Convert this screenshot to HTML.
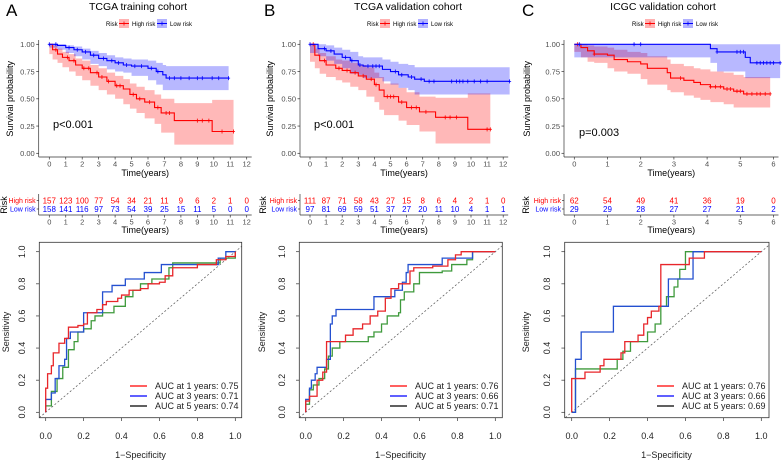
<!DOCTYPE html>
<html><head><meta charset="utf-8">
<style>
html,body{margin:0;padding:0;background:#fff;width:784px;height:461px;overflow:hidden}
svg{display:block;font-family:"Liberation Sans",sans-serif}
</style></head>
<body>
<svg id="fig" width="784" height="461" viewBox="0 0 784 461" xmlns="http://www.w3.org/2000/svg"></svg>
<script>
// ---------- DATA ----------
const kmAHigh=[[0,1,1,1],[0.2,0.95,0.91,0.99],[0.5,0.91,0.86,0.96],[0.8,0.88,0.83,0.93],[1.2,0.85,0.79,0.91],[1.6,0.81,0.75,0.87],[2,0.78,0.71,0.85],[2.5,0.74,0.67,0.81],[3,0.70,0.62,0.78],[3.5,0.66,0.58,0.74],[4,0.62,0.54,0.71],[4.5,0.59,0.50,0.68],[4.9,0.54,0.45,0.64],[5.3,0.50,0.41,0.61],[5.8,0.47,0.37,0.58],[6.4,0.42,0.32,0.54],[6.8,0.37,0.27,0.50],[7.6,0.30,0.19,0.46],[9.9,0.20,0.08,0.49],[11.2,0.20,0.08,0.49]];
const kmALow=[[0,1,1,1],[0.5,0.99,0.97,1],[1,0.97,0.95,0.99],[1.5,0.95,0.92,0.98],[2,0.93,0.89,0.96],[2.5,0.90,0.86,0.94],[3,0.87,0.82,0.92],[3.5,0.85,0.80,0.90],[4,0.83,0.77,0.88],[4.5,0.81,0.75,0.87],[5,0.80,0.74,0.86],[6,0.78,0.71,0.85],[6.5,0.75,0.67,0.83],[6.9,0.72,0.63,0.81],[7.1,0.69,0.58,0.80],[10.9,0.69,0.58,0.80]];
const censAHigh=[0.4,1.1,1.5,2.1,2.4,2.9,3.2,3.6,4.1,4.3,5.1,5.5,6.1,6.6,7.1,7.3,9.0,9.3,9.7,10.5,11.2];
const censALow=[0,0.4,1.2,1.7,2.2,2.7,3.3,3.8,4.2,4.7,5.2,5.6,6.2,6.6,7.3,7.6,8,8.5,9,9.3,9.9,10.3,10.9];
const kmBHigh=[[0,1,1,1],[0.3,0.9,0.84,0.96],[0.6,0.85,0.78,0.92],[1,0.81,0.73,0.89],[1.6,0.78,0.70,0.86],[2,0.76,0.67,0.85],[2.5,0.74,0.65,0.83],[3,0.71,0.61,0.81],[3.5,0.68,0.58,0.79],[4,0.63,0.52,0.74],[4.3,0.58,0.47,0.70],[4.6,0.52,0.40,0.64],[5.5,0.47,0.35,0.60],[6,0.42,0.30,0.56],[6.8,0.38,0.26,0.52],[7.8,0.33,0.20,0.51],[9.8,0.22,0.09,0.55],[11.2,0.22,0.09,0.55]];
const kmBLow=[[0,1,1,1],[0.5,0.96,0.92,1],[1,0.94,0.89,0.99],[1.5,0.91,0.85,0.97],[2,0.88,0.82,0.95],[2.5,0.85,0.78,0.93],[3,0.81,0.73,0.89],[3.3,0.80,0.72,0.88],[4.5,0.77,0.69,0.86],[5,0.75,0.66,0.84],[5.5,0.72,0.63,0.82],[6.1,0.70,0.60,0.81],[6.5,0.68,0.58,0.79],[7.1,0.66,0.54,0.79],[12.4,0.66,0.54,0.79]];
const censBHigh=[0.2,0.9,1.8,2.3,2.8,3.3,3.8,4.1,4.8,5.0,5.2,5.7,6.3,6.6,7.2,8.4,8.7,9.1,11.0,11.2];
const censBLow=[0,0.9,1.3,2.2,2.6,3.1,3.6,3.9,4.1,4.3,5.3,5.7,6.3,6.9,7.4,7.7,8.8,9.1,9.3,9.5,9.8,10.2,10.6,11,12.4];
const kmCHigh=[[0,1,1,1],[0.2,0.97,0.93,1],[0.4,0.94,0.88,0.99],[0.6,0.91,0.84,0.98],[1.0,0.90,0.83,0.97],[1.2,0.86,0.78,0.95],[1.6,0.84,0.75,0.93],[2.0,0.82,0.73,0.92],[2.2,0.78,0.68,0.89],[2.8,0.74,0.63,0.86],[2.9,0.69,0.58,0.82],[3.3,0.67,0.56,0.80],[3.6,0.65,0.53,0.78],[3.8,0.63,0.51,0.77],[4.1,0.61,0.49,0.75],[4.5,0.59,0.47,0.74],[4.8,0.57,0.45,0.72],[5.1,0.545,0.42,0.70],[5.9,0.545,0.42,0.70]];
const kmCLow=[[0,1,1,1],[4.1,0.96,0.88,1],[4.3,0.93,0.83,1],[5.15,0.88,0.75,1],[5.3,0.83,0.69,1],[6.2,0.83,0.69,1]];
const censCHigh=[0.1,0.6,3.2,4.1,4.25,4.4,4.6,4.7,4.9,5.0,5.2,5.35,5.5,5.6,5.75,5.9];
const censCLow=[0.15,1.8,2.0,4.3,4.9,5.0,5.1,5.5,5.6,5.7,5.8,5.9,6.0,6.2];
const riskAHigh=[157,123,100,77,54,34,21,11,9,6,2,1,0];
const riskALow=[158,141,116,97,73,54,39,25,15,11,5,0,0];
const riskBHigh=[111,87,71,58,43,27,15,8,6,4,2,1,0];
const riskBLow=[97,81,69,59,51,37,27,20,11,10,4,1,1];
const riskCHigh=[62,54,49,41,36,19,0];
const riskCLow=[29,29,28,27,27,21,2];
const survTicks=["0.00","0.25","0.50","0.75","1.00"];
const rocTicks=["0.0","0.2","0.4","0.6","0.8","1.0"];
const rocA1=[[0,0],[0,0.15],[0.01,0.24],[0.03,0.29],[0.04,0.37],[0.07,0.43],[0.1,0.46],[0.12,0.53],[0.17,0.54],[0.2,0.55],[0.22,0.62],[0.27,0.64],[0.3,0.67],[0.32,0.69],[0.38,0.71],[0.4,0.73],[0.44,0.76],[0.5,0.77],[0.54,0.8],[0.6,0.81],[0.63,0.85],[0.67,0.9],[0.8,0.92],[0.9,0.95],[0.95,0.97],[1,1]];
const rocA3=[[0,0],[0,0.08],[0.03,0.12],[0.05,0.21],[0.07,0.29],[0.1,0.33],[0.11,0.46],[0.13,0.5],[0.19,0.5],[0.2,0.62],[0.29,0.62],[0.3,0.75],[0.35,0.79],[0.42,0.83],[0.52,0.87],[0.61,0.92],[0.9,0.92],[0.91,0.96],[0.95,1],[1,1]];
const rocA5=[[0,0],[0,0.04],[0.03,0.13],[0.06,0.21],[0.09,0.28],[0.12,0.39],[0.15,0.44],[0.17,0.5],[0.2,0.52],[0.24,0.57],[0.26,0.6],[0.3,0.62],[0.36,0.66],[0.42,0.72],[0.46,0.76],[0.5,0.8],[0.56,0.83],[0.65,0.9],[0.67,0.93],[0.9,0.93],[0.92,0.96],[1,1]];
const rocB1=[[0,0],[0,0.07],[0.02,0.1],[0.06,0.11],[0.06,0.2],[0.09,0.25],[0.11,0.44],[0.19,0.44],[0.21,0.48],[0.25,0.52],[0.3,0.55],[0.34,0.6],[0.38,0.63],[0.42,0.71],[0.45,0.77],[0.49,0.8],[0.52,0.8],[0.55,0.88],[0.57,0.9],[0.67,0.91],[0.75,0.95],[0.79,0.98],[0.82,1],[1,1]];
const rocB3=[[0,0],[0,0.08],[0.02,0.15],[0.03,0.2],[0.05,0.24],[0.06,0.28],[0.11,0.33],[0.13,0.55],[0.14,0.6],[0.16,0.64],[0.34,0.64],[0.36,0.72],[0.45,0.72],[0.47,0.76],[0.51,0.81],[0.53,0.87],[0.54,0.92],[0.71,0.92],[0.72,0.96],[0.86,0.96],[0.88,1],[1,1]];
const rocB5=[[0,0],[0,0.05],[0.02,0.14],[0.04,0.17],[0.07,0.21],[0.1,0.27],[0.12,0.35],[0.14,0.4],[0.18,0.44],[0.3,0.44],[0.33,0.47],[0.36,0.5],[0.4,0.55],[0.43,0.6],[0.49,0.62],[0.5,0.7],[0.52,0.75],[0.57,0.8],[0.6,0.87],[0.72,0.88],[0.77,0.92],[0.85,0.95],[0.88,1],[1,1]];
const rocC1=[[0,0],[0,0.21],[0.07,0.25],[0.15,0.29],[0.17,0.33],[0.24,0.33],[0.26,0.37],[0.28,0.44],[0.35,0.48],[0.38,0.55],[0.4,0.59],[0.42,0.63],[0.46,0.66],[0.47,0.92],[0.6,0.92],[0.62,0.96],[0.7,1],[1,1]];
const rocC3=[[0,0],[0.02,0],[0.02,0.33],[0.05,0.5],[0.22,0.5],[0.22,0.66],[0.5,0.66],[0.51,0.83],[0.63,0.83],[0.64,1],[1,1]];
const rocC5=[[0,0],[0.02,0],[0.02,0.27],[0.23,0.27],[0.24,0.33],[0.27,0.38],[0.31,0.44],[0.4,0.5],[0.44,0.55],[0.47,0.66],[0.5,0.72],[0.54,0.78],[0.56,0.83],[0.57,0.89],[0.6,1],[1,1]];
const aucA=["0.75","0.71","0.74"];
const aucB=["0.76","0.66","0.71"];
const aucC=["0.76","0.66","0.69"];

// ---------- DRAW ----------
const NS="http://www.w3.org/2000/svg";
const fig=document.getElementById('fig');
function mk(parent,tag,attrs,txt){const e=document.createElementNS(NS,tag);for(const k in attrs)e.setAttribute(k,attrs[k]);if(txt!==undefined)e.textContent=txt;parent.appendChild(e);return e;}
const RED="#ff0000",BLUE="#0000ff";
const KY0=153.3,KY1=44.3;
function ky(s){return KY0+(KY1-KY0)*s;}
function stepAt(arr,t){let s=arr[0][1];for(const p of arr){if(p[0]<=t)s=p[1];}return s;}

function kmPanel(cfg){
  const g=mk(fig,'g',{});
  
  
  const kx=t=>cfg.x0+t*cfg.pxy;
  const L=cfg.left, R=kx(cfg.maxT)+5;
  const letter=mk(g,'text',{x:cfg.letterX,y:16,'font-size':17,fill:'#000'},cfg.letter);
  
  
  const title=mk(g,'text',{x:cfg.titleX,y:10,'font-size':10.5,'text-anchor':'middle',fill:'#000'},cfg.title);
  
  
  // legend
  const lg=mk(g,'g',{});
  
  
  const lx=cfg.legX;
  mk(lg,'text',{x:lx,y:26,'font-size':6,fill:'#000'},'Risk');
  [[RED,'rgba(255,0,0,0.3)','High risk',lx+13],[BLUE,'rgba(0,0,255,0.3)','Low risk',lx+51]].forEach(d=>{
    const e=mk(lg,'g',{});
    
    
    mk(e,'rect',{x:d[3],y:19,width:10,height:9,fill:d[1]});
    mk(e,'line',{x1:d[3],x2:d[3]+10,y1:23.5,y2:23.5,stroke:d[0],'stroke-width':1});
    mk(e,'line',{x1:d[3]+5,x2:d[3]+5,y1:21.5,y2:25.5,stroke:d[0],'stroke-width':0.8});
    mk(e,'text',{x:d[3]+13,y:26,'font-size':6,fill:'#000'},d[2]);
  });
  // axes
  const ax=mk(g,'g',{stroke:'#333','stroke-width':0.7});
  
  
  mk(ax,'line',{x1:L,x2:L,y1:40,y2:157});
  mk(ax,'line',{x1:L,x2:R,y1:157,y2:157});
  survTicks.forEach((lab,i)=>{
    const y=ky(i*0.25);
    mk(ax,'line',{x1:L-2.5,x2:L,y1:y,y2:y});
    const t=mk(g,'text',{x:L-4,y:y+2.7,'font-size':7.5,'text-anchor':'end',fill:'#4d4d4d'},lab);
    
    
  });
  for(let i=0;i<=cfg.maxT;i++){
    const x=kx(i);
    mk(ax,'line',{x1:x,x2:x,y1:157,y2:159.5});
    const t=mk(g,'text',{x:x,y:166.5,'font-size':7.5,'text-anchor':'middle',fill:'#4d4d4d'},String(i));
    
    
  }
  const xt=mk(g,'text',{x:(L+R)/2,y:176,'font-size':9,'text-anchor':'middle',fill:'#000'},'Time(years)');
  
  
  const yt=mk(g,'text',{x:0,y:0,'font-size':9,'text-anchor':'middle',fill:'#000',transform:`translate(${cfg.yTitleX},${ky(0.5)}) rotate(-90)`},'Survival probability');
  
  
  // series
  [[cfg.high,cfg.censHigh,RED,'rgba(255,0,0,0.28)','high-risk'],[cfg.low,cfg.censLow,BLUE,'rgba(0,0,255,0.28)','low-risk']].forEach(sr=>{
    const arr=sr[0];
    let up='M'+kx(arr[0][0])+','+ky(arr[0][3]);
    for(let i=1;i<arr.length;i++){up+=' H'+kx(arr[i][0])+' V'+ky(arr[i][3]);}
    let dn='';
    for(let i=arr.length-1;i>0;i--){dn+=' V'+ky(arr[i][2])+' H'+kx(arr[i-1][0]);}
    dn+=' V'+ky(arr[0][2])+' Z';
    const band=mk(g,'path',{d:up+dn,fill:sr[3],stroke:'none'});
    
    
  });
  [[cfg.high,cfg.censHigh,RED,'high-risk'],[cfg.low,cfg.censLow,BLUE,'low-risk']].forEach(sr=>{
    const arr=sr[0];
    let d='M'+kx(arr[0][0])+','+ky(arr[0][1]);
    for(let i=1;i<arr.length;i++){d+=' H'+kx(arr[i][0])+' V'+ky(arr[i][1]);}
    const line=mk(g,'path',{d:d,fill:'none',stroke:sr[2],'stroke-width':1.1});
    
    
    sr[1].forEach(t=>{
      const x=kx(t),y=ky(stepAt(arr,t));
      const c=mk(g,'path',{d:`M${x},${y-2}V${y+2}M${x-1.5},${y}H${x+1.5}`,stroke:sr[2],'stroke-width':0.8});
      
      
    });
  });
  const pv=mk(g,'text',{x:cfg.pX,y:cfg.pY,'font-size':11,fill:'#000'},cfg.p);
  
  
  // risk table
  const tg=mk(g,'g',{});
  
  
  mk(tg,'line',{x1:L,x2:L,y1:194,y2:215,stroke:'#333','stroke-width':0.7});
  mk(tg,'line',{x1:L,x2:R,y1:215,y2:215,stroke:'#333','stroke-width':0.7});
  mk(tg,'line',{x1:L-2,x2:L,y1:200.5,y2:200.5,stroke:'#333','stroke-width':0.7});
  mk(tg,'line',{x1:L-2,x2:L,y1:209,y2:209,stroke:'#333','stroke-width':0.7});
  const rl=mk(tg,'text',{x:0,y:0,'font-size':9,'text-anchor':'middle',fill:'#000',transform:`translate(${cfg.riskX},205) rotate(-90)`},'Risk');
  
  
  const h=mk(tg,'text',{x:L-3,y:203,'font-size':7,'text-anchor':'end',fill:RED},'High risk');
  
  
  const lo=mk(tg,'text',{x:L-3,y:211.5,'font-size':7,'text-anchor':'end',fill:BLUE},'Low risk');
  
  
  cfg.riskHigh.forEach((v,i)=>{
    const e=mk(tg,'text',{x:kx(i*cfg.riskStep),y:203.5,'font-size':8,'text-anchor':'middle',fill:RED},String(v));
    
    
  });
  cfg.riskLow.forEach((v,i)=>{
    const e=mk(tg,'text',{x:kx(i*cfg.riskStep),y:212,'font-size':8,'text-anchor':'middle',fill:BLUE},String(v));
    
    
  });
  for(let i=0;i<=cfg.maxT;i++){
    const x=kx(i);
    mk(tg,'line',{x1:x,x2:x,y1:215,y2:217.5,stroke:'#333','stroke-width':0.7});
    const t=mk(tg,'text',{x:x,y:224.5,'font-size':7.5,'text-anchor':'middle',fill:'#4d4d4d'},String(i));
    
    
  }
  const tt=mk(tg,'text',{x:(L+R)/2,y:233,'font-size':9,'text-anchor':'middle',fill:'#000'},'Time(years)');
  
  
}

const RY0=412.3,RY1=251.7;
function rocPanel(cfg){
  const g=mk(fig,'g',{});
  
  
  const rx=v=>cfg.x0+(cfg.x1-cfg.x0)*v, ry=v=>RY0+(RY1-RY0)*v;
  const box=mk(g,'rect',{x:cfg.bl,y:242.3,width:cfg.br-cfg.bl,height:175.4,fill:'none',stroke:'#333','stroke-width':0.8});
  
  
  const t0=(cfg.bl-cfg.x0)/(cfg.x1-cfg.x0),t1=(cfg.br-cfg.x0)/(cfg.x1-cfg.x0);
  const ta=Math.max(t0,(417.7-RY0)/(RY1-RY0)),tb=Math.min(t1,(242.3-RY0)/(RY1-RY0));
  const diag=mk(g,'line',{x1:rx(ta),y1:ry(ta),x2:rx(tb),y2:ry(tb),stroke:'#555','stroke-width':0.7,'stroke-dasharray':'2,2'});
  
  
  rocTicks.forEach((lab,i)=>{
    const v=i*0.2,x=rx(v),y=ry(v);
    mk(g,'line',{x1:x,x2:x,y1:417.7,y2:421,stroke:'#333','stroke-width':0.7});
    mk(g,'line',{x1:cfg.bl-3.3,x2:cfg.bl,y1:y,y2:y,stroke:'#333','stroke-width':0.7});
    const xt=mk(g,'text',{x:x,y:439,'font-size':9,'text-anchor':'middle',fill:'#222'},lab);
    
    
    const yt=mk(g,'text',{x:0,y:0,'font-size':9,'text-anchor':'middle',fill:'#222',transform:`translate(${cfg.yLabX},${y}) rotate(-90)`},lab);
    
    
  });
  const xa=mk(g,'text',{x:(cfg.x0+cfg.x1)/2,y:458,'font-size':9,'text-anchor':'middle',fill:'#222'},'1\u2212Specificity');
  
  
  const ya=mk(g,'text',{x:0,y:0,'font-size':9,'text-anchor':'middle',fill:'#222',transform:`translate(${cfg.yTitX},${ry(0.5)}) rotate(-90)`},'Sensitivity');
  
  
  const cols=['#e8262a','#2450d0','#3f9a3c'],names=['roc-1-year','roc-3-year','roc-5-year'];
  [cfg.r5,cfg.r3,cfg.r1].forEach((arr,k)=>{
    const idx=2-k;
    let d='M'+rx(arr[0][0])+','+ry(arr[0][1]);
    for(let i=1;i<arr.length;i++){d+=' H'+rx(arr[i][0])+' V'+ry(arr[i][1]);}
    const p=mk(g,'path',{d:d,fill:'none',stroke:cols[idx],'stroke-width':1.3});
    
    
  });
  const lg=mk(g,'g',{});
  
  
  const lcols=['#ff0000','#0000ff','#000000'],yrs=['1','3','5'];
  cfg.auc.forEach((a,i)=>{
    const y=386+i*10;
    const e=mk(lg,'g',{});
    
    
    mk(e,'line',{x1:cfg.legX,x2:cfg.legX+17,y1:y,y2:y,stroke:lcols[i],'stroke-width':1.3});
    mk(e,'text',{x:cfg.legX+25,y:y+3,'font-size':9,fill:'#222'},`AUC at ${yrs[i]} years: ${a}`);
  });
}

kmPanel({id:'tcga-training',letter:'A',letterX:6,title:'TCGA training cohort',titleX:138,legX:106,left:38.7,x0:49.3,pxy:16.45,maxT:12,high:kmAHigh,low:kmALow,censHigh:censAHigh,censLow:censALow,p:'p<0.001',pX:53,pY:128,yTitleX:13,riskX:7,riskHigh:riskAHigh,riskLow:riskALow,riskStep:1});
kmPanel({id:'tcga-validation',letter:'B',letterX:264,title:'TCGA validation cohort',titleX:408,legX:367,left:300,x0:310,pxy:16.1,maxT:12,high:kmBHigh,low:kmBLow,censHigh:censBHigh,censLow:censBLow,p:'p<0.001',pX:314,pY:128,yTitleX:273,riskX:266,riskHigh:riskBHigh,riskLow:riskBLow,riskStep:1});
kmPanel({id:'icgc-validation',letter:'C',letterX:522,title:'ICGC validation cohort',titleX:663,legX:632,left:564,x0:574.3,pxy:33.2,maxT:6,high:kmCHigh,low:kmCLow,censHigh:censCHigh,censLow:censCLow,p:'p=0.003',pX:579,pY:136,yTitleX:530,riskX:529,riskHigh:riskCHigh,riskLow:riskCLow,riskStep:1});

rocPanel({id:'tcga-training',bl:39.3,br:241.7,x0:45.7,x1:235.3,yLabX:25,yTitX:9,r1:rocA1,r3:rocA3,r5:rocA5,auc:aucA,legX:130});
rocPanel({id:'tcga-validation',bl:299.3,br:502.3,x0:305.7,x1:495.3,yLabX:285,yTitX:265,r1:rocB1,r3:rocB3,r5:rocB5,auc:aucB,legX:390});
rocPanel({id:'icgc-validation',bl:564.7,br:769,x0:571.7,x1:761.3,yLabX:550,yTitX:529,r1:rocC1,r3:rocC3,r5:rocC5,auc:aucC,legX:657});
</script>
</body></html>
